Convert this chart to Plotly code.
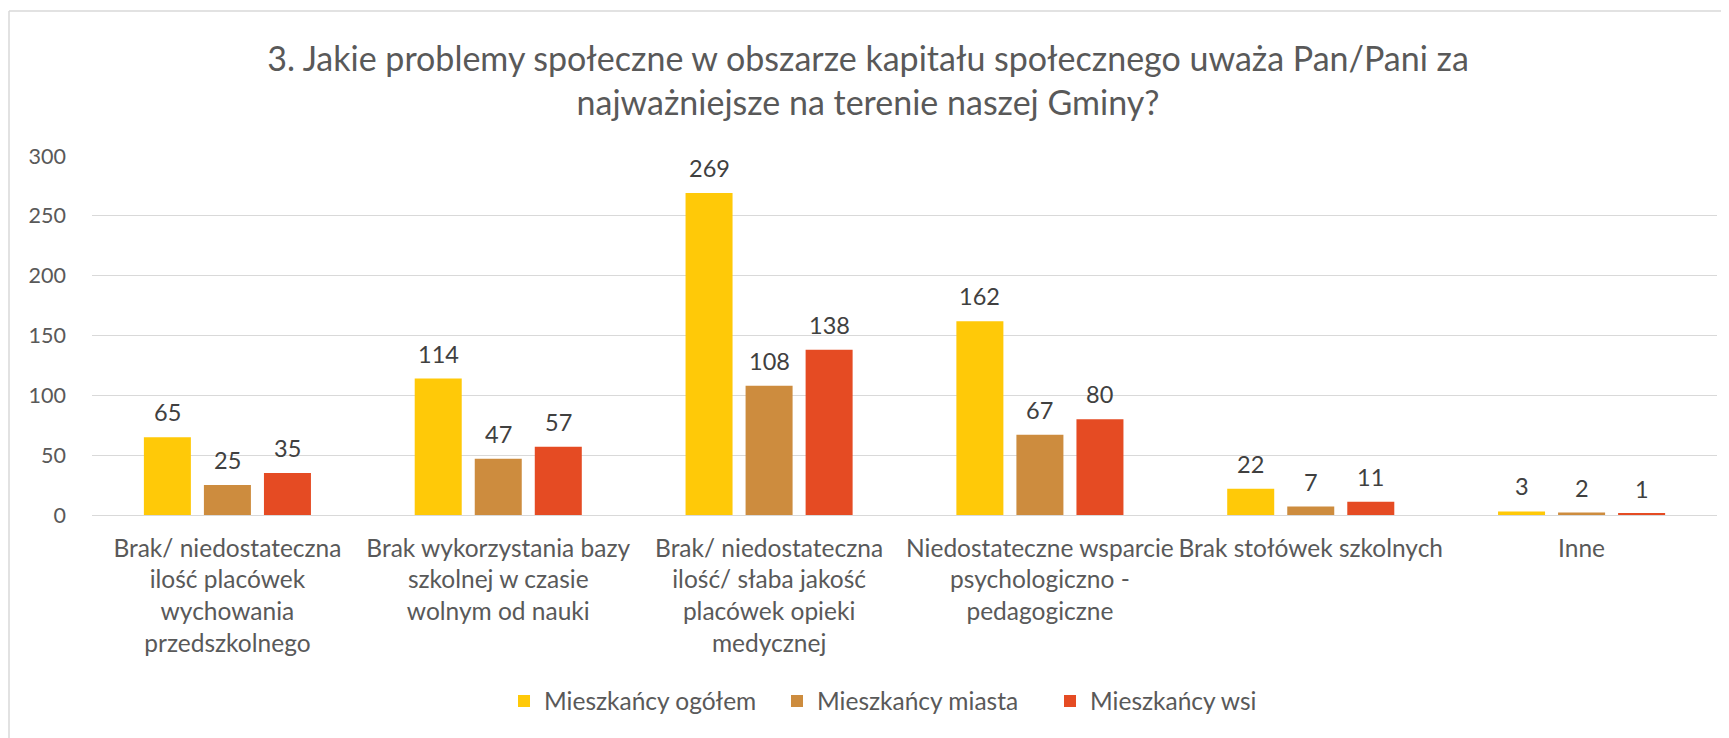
import plotly.graph_objects as go

categories = [
    "Brak/ niedostateczna<br>ilość placówek<br>wychowania<br>przedszkolnego",
    "Brak wykorzystania bazy<br>szkolnej w czasie<br>wolnym od nauki",
    "Brak/ niedostateczna<br>ilość/ słaba jakość<br>placówek opieki<br>medycznej",
    "Niedostateczne wsparcie<br>psychologiczno -<br>pedagogiczne",
    "Brak stołówek szkolnych",
    "Inne",
]
series_names = ["Mieszkańcy ogółem", "Mieszkańcy miasta", "Mieszkańcy wsi"]
ogolem = [65, 114, 269, 162, 22, 3]
miasta = [25, 47, 108, 67, 7, 2]
wsi = [35, 57, 138, 80, 11, 1]
series_values = [ogolem, miasta, wsi]
colors = ["#FFC908", "#CD8C3E", "#E54B23"]

title_text = ("3. Jakie problemy społeczne w obszarze kapitału społecznego uważa Pan/Pani za"
              "<br>najważniejsze na terenie naszej Gminy?")

FONT = "Lato"
# page has an 8px body margin, so the figure is drawn 8px smaller
W, H = 1721, 730
L, R, T, B = 84, 12, 148, 223
PW, PH = W - L - R, H - T - B

fig = go.Figure()
for name, vals, col in zip(series_names, series_values, colors):
    fig.add_trace(go.Bar(x=categories, y=vals, name=name, marker_color=col,
                         marker_line_width=0))

# data labels
slot = 60
for i, vals in enumerate(series_values):
    for c, v in zip(categories, vals):
        fig.add_annotation(x=c, y=v, text=str(v), showarrow=False,
                           xshift=(i - 1) * slot, yshift=25, yanchor="middle",
                           font=dict(family=FONT, size=23.5, color="#404040"))

fig.update_layout(
    width=W, height=H,
    margin=dict(l=L, r=R, t=T, b=B),
    paper_bgcolor="white", plot_bgcolor="white",
    barmode="group", bargap=0.335, bargroupgap=0.217,
    title=dict(text=title_text, x=860 / W, xref="container", xanchor="center",
               y=1 - 63 / H, yref="container", yanchor="top",
               font=dict(family=FONT, size=34, color="#595959")),
    legend=dict(orientation="h", x=496 / W, xref="container", xanchor="left",
                y=1 - 693 / H, yref="container", yanchor="middle",
                font=dict(family=FONT, size=24.5, color="#595959"),
                entrywidth=228, entrywidthmode="pixels", traceorder="normal"),
    xaxis=dict(showgrid=False, showline=False, ticks="",
               tickfont=dict(family=FONT, size=24.5, color="#595959"),
               ticklabelstandoff=16),
    yaxis=dict(range=[0, 300], dtick=50, showgrid=True, gridcolor="#D9D9D9",
               gridwidth=1.3, zeroline=True, zerolinecolor="#D9D9D9",
               zerolinewidth=1.3, showline=False, ticks="",
               tickfont=dict(family=FONT, size=21.5, color="#595959"),
               ticklabelstandoff=25),
    shapes=[
        dict(type="line", xref="paper", yref="paper",
             x0=(1 - L) / PW, x1=(W + 20 - L) / PW,
             y0=(H - B - 3) / PH, y1=(H - B - 3) / PH,
             line=dict(color="#D9D9D9", width=1.5)),
        dict(type="line", xref="paper", yref="paper",
             x0=(1 - L) / PW, x1=(1 - L) / PW,
             y0=(H - B - 3) / PH, y1=(H - B - H - 20) / PH,
             line=dict(color="#D9D9D9", width=1.5)),
    ],
)

fig.write_html("out.html")
